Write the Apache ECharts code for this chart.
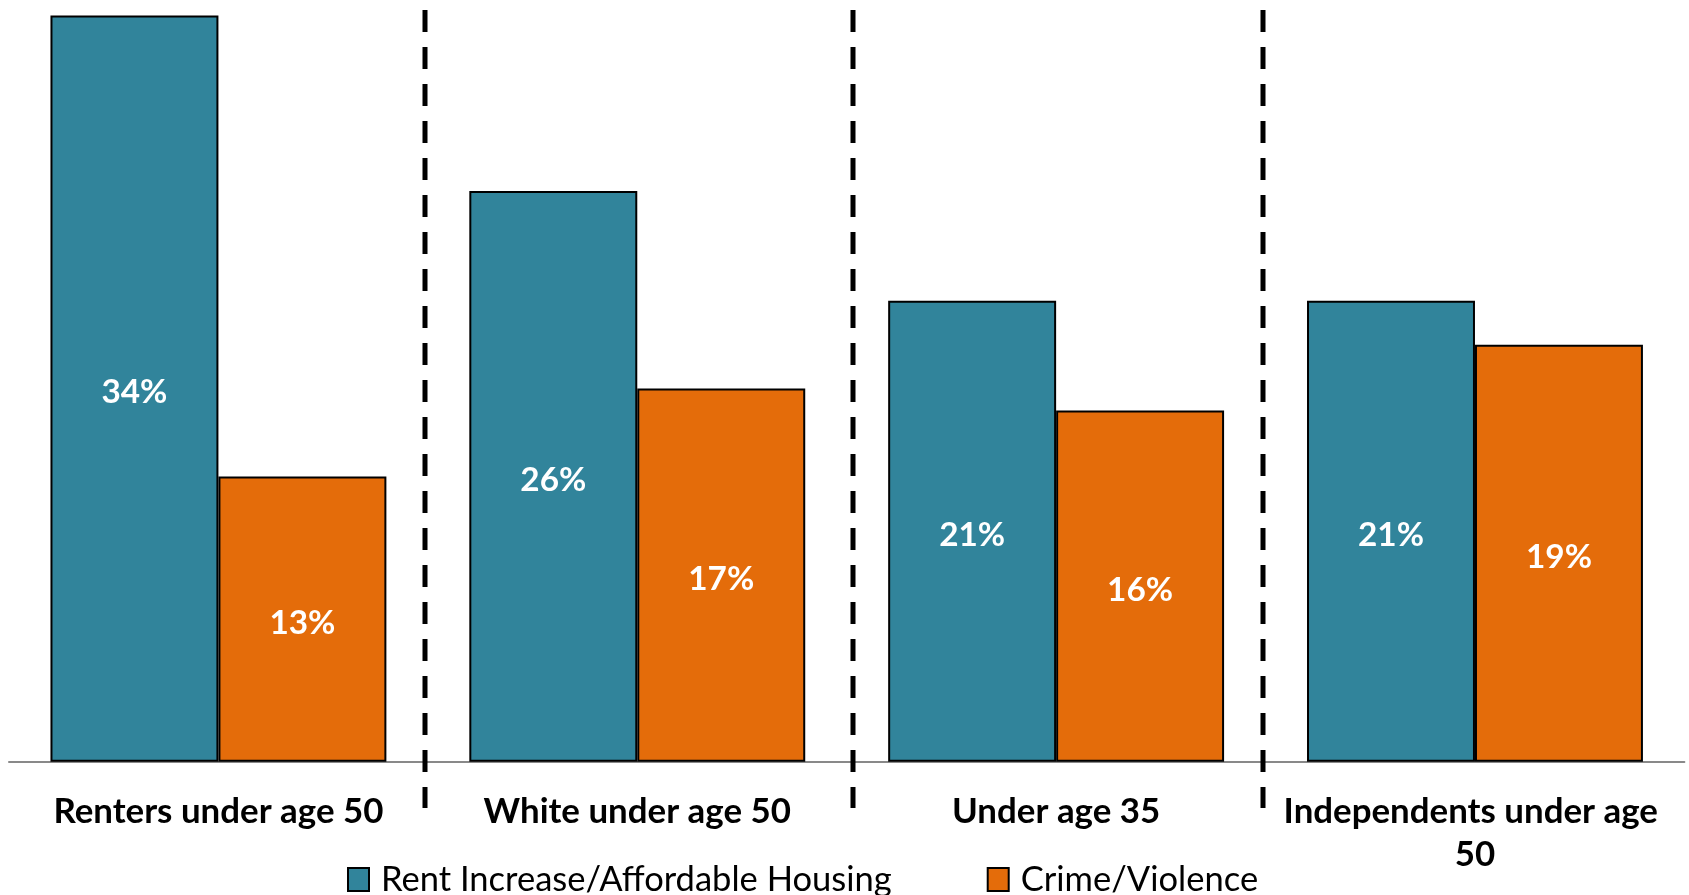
<!DOCTYPE html>
<html>
<head>
<meta charset="utf-8">
<script src="https://cdn.jsdelivr.net/npm/echarts@6/dist/echarts.min.js"></script>
<style>
html,body{margin:0;padding:0;background:#fff;}
#chart{width:1689px;height:895px;}
</style>
</head>
<body>
<div id="chart"></div>
<script>
const categories = ['Renters under age 50', 'White under age 50', 'Under age 35', 'Independents under age 50'];
const seriesNames = ['Rent Increase/Affordable Housing', 'Crime/Violence'];
const rentValues = [34, 26, 21, 21];
const crimeValues = [13, 17, 16, 19];

const FONT = 'Lato';
const ctx = document.createElement('canvas').getContext('2d');
function fit(text, weight, target) {
  ctx.font = weight + ' 100px ' + FONT;
  return 100 * target / ctx.measureText(text).width;
}
const catSize = fit('Renters under age 50', 'bold', 330);
const valSize = fit('34%', 'bold', 66);
const legSize = fit('Rent Increase/Affordable Housing', 'normal', 511);

const chart = echarts.init(document.getElementById('chart'), null, {renderer: 'canvas'});

const barLabel = {
  show: true,
  position: 'inside',
  offset: [0, 4],
  color: '#fff',
  fontFamily: FONT,
  fontWeight: 'bold',
  fontSize: valSize,
  formatter: p => p.value + '%'
};

chart.setOption({
  animation: false,
  backgroundColor: '#fff',
  grid: {left: 9, right: 4.6, top: 15.5, bottom: 133.3, containLabel: false},
  legend: {
    left: 347,
    top: 862,
    padding: 0,
    itemWidth: 21,
    itemHeight: 23,
    itemGap: 95,
    icon: 'rect',
    textStyle: {fontFamily: FONT, fontSize: legSize, color: '#000', lineHeight: 23, padding: [0, 0, 0, 7]},
    data: seriesNames
  },
  xAxis: {
    type: 'category',
    data: categories,
    axisLine: {show: true, lineStyle: {color: '#898989', width: 2}},
    axisTick: {show: false},
    splitLine: {show: false},
    axisLabel: {
      interval: 0,
      margin: 29,
      color: '#000',
      fontFamily: FONT,
      fontWeight: 'bold',
      fontSize: catSize,
      lineHeight: 43,
      width: 400,
      overflow: 'break'
    }
  },
  yAxis: {
    type: 'value',
    min: 0,
    max: 34,
    show: false,
    splitLine: {show: false}
  },
  series: [
    {
      name: seriesNames[0],
      type: 'bar',
      data: rentValues,
      barGap: '0%',
      barCategoryGap: '19.8%',
      itemStyle: {color: '#31849B', borderColor: '#000', borderWidth: 2},
      label: barLabel
    },
    {
      name: seriesNames[1],
      type: 'bar',
      data: crimeValues,
      barGap: '0%',
      barCategoryGap: '19.8%',
      itemStyle: {color: '#E46C0A', borderColor: '#000', borderWidth: 2},
      label: barLabel
    }
  ]
});

// dashed dividers between category groups (small nudges to match the original placement)
const dividerNudge = [-3, 6, -3];
const dividers = [];
for (let i = 0; i < categories.length - 1; i++) {
  const a = chart.convertToPixel({xAxisIndex: 0}, categories[i]);
  const b = chart.convertToPixel({xAxisIndex: 0}, categories[i + 1]);
  const x = Math.round((a + b) / 2) + dividerNudge[i];
  dividers.push({
    type: 'line',
    shape: {x1: x, y1: 10, x2: x, y2: 808},
    style: {stroke: '#000', lineWidth: 5, lineDash: [22, 15], lineCap: 'butt'},
    z: 100
  });
}
chart.setOption({graphic: dividers});
</script>
</body>
</html>
